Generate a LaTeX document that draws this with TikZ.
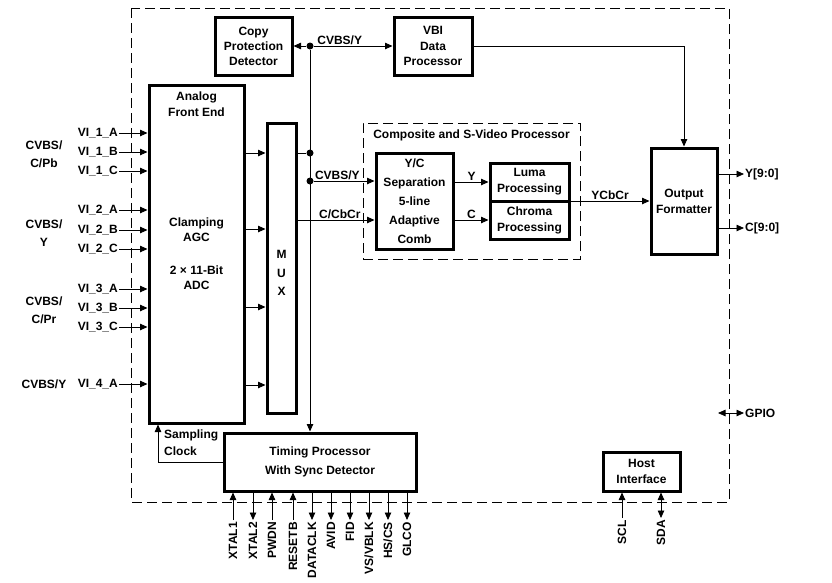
\documentclass[tikz,border=0pt]{standalone}
\usepackage{fontspec}
\setmainfont{Liberation Sans}
\usepackage{tikz}
\usetikzlibrary{
    arrows.meta,
    positioning
}
\tikzset{
    % Base style for all texts
    base text/.style={
        font=\fontsize{12}{15}\selectfont\bfseries,
        align=center,
        inner sep=1pt,
    },
    % Other line spacing
    spread/.style={
        font=\fontsize{12}{#1}\selectfont\bfseries,
    },
    % Functional blocks - thick black outline
    block/.style={
        base text,
        draw,
        line width=3pt,
        inner sep=0pt,
    },
    % Dashed frames
    frame/.style={
        draw,
        line width=0.8pt,
        dash pattern=on 10pt off 5pt,
    },
    % Plain signal line
    wire/.style={
        line width=0.8pt,
    },
    % Signal arrow
    arrow/.style={
        wire,
        -{Triangle[length=7.5pt, width=6.5pt]},
    },
    % Arrow pointing back to the start
    arrow back/.style={
        wire,
        {Triangle[length=7.5pt, width=6.5pt]}-,
    },
    % Bidirectional signal
    arrow both/.style={
        wire,
        {Triangle[length=7.5pt, width=6.5pt]}-{Triangle[length=7.5pt, width=6.5pt]},
    },
    % Junction dot on the bus
    junction/.style={
        circle,
        fill,
        inner sep=0pt,
        minimum size=7pt,
    },
    % Pin names, read bottom to top
    pin label/.style={
        base text,
        rotate=90,
        anchor=east,
        inner sep=2pt,
    },
}

\begin{document}
\begin{tikzpicture}[x=1pt, y=-1pt, every node/.style={align=center}]
    \useasboundingbox (0,0) rectangle (832,582);

    % chip outline
    \draw [frame] (131,8) rectangle (729,502);
    \node (cvp) [frame, minimum width=217pt, minimum height=136pt] at (471.5,191) {};
    \node (cvptitle) [base text, below=6pt of cvp.north] {Composite and S-Video Processor};

    \node (cpd) [block, spread=15, minimum width=77pt, minimum height=58pt] at (253.5,46) {Copy\\Protection\\Detector};
    \node (vbi) [block, spread=15.5, minimum width=78pt, minimum height=58pt] at (433,46) {VBI\\Data\\Processor};
    \node (afe) [block, minimum width=95pt, minimum height=338pt] at (196.5,254) {};
    \node (afetop) [base text, spread=16] at (196.5,104) {Analog\\Front End};
    \node (afemid) [base text] at (196.5,253.5) {Clamping\\AGC\\[18pt]2 × 11-Bit\\ADC};
    \node (mux) [block, minimum width=29pt, minimum height=290pt] at (281.5,268) {};
    \node (muxtext) [base text, spread=18.5] at (281.5,273) {M\\U\\X};
    \node (yc) [block, spread=19, minimum width=77pt, minimum height=96pt] at (414.5,201) {Y/C\\Separation\\5-line\\Adaptive\\Comb};
    \node (luma) [block, spread=16, minimum width=79pt, minimum height=38pt] at (529.5,182) {Luma\\Processing};
    \node (chroma) [block, spread=16, minimum width=79pt, minimum height=38pt] at (529.5,220) {Chroma\\Processing};
    \node (fmt) [block, spread=16, minimum width=66pt, minimum height=106pt] at (684,201) {Output\\Formatter};
    \node (tim) [block, spread=19, minimum width=192pt, minimum height=58pt] at (320,462) {Timing Processor\\With Sync Detector};
    \node (host) [block, spread=16, minimum width=77pt, minimum height=39pt] at (641.5,471.5) {Host\\Interface};

    % bus junctions
    \node (jtop) [junction] at (310,46) {};
    \node (jmux) [junction] at (310,153) {};
    \node (jcv) [junction] at (310,181) {};

    % analog inputs
    \node (g1) [base text, spread=18] at (44,154) {CVBS/\\C/Pb};
    \node (g2) [base text, spread=18] at (44,233) {CVBS/\\Y};
    \node (g3) [base text, spread=18] at (44,310) {CVBS/\\C/Pr};
    \node (g4) [base text] at (44,384) {CVBS/Y};
    \node (vi1a) [base text, anchor=east] at (119,133) {VI\_1\_A};
    \node (vi1b) [base text, anchor=east] at (119,152) {VI\_1\_B};
    \node (vi1c) [base text, anchor=east] at (119,171) {VI\_1\_C};
    \node (vi2a) [base text, anchor=east] at (119,210) {VI\_2\_A};
    \node (vi2b) [base text, anchor=east] at (119,230) {VI\_2\_B};
    \node (vi2c) [base text, anchor=east] at (119,249) {VI\_2\_C};
    \node (vi3a) [base text, anchor=east] at (119,289) {VI\_3\_A};
    \node (vi3b) [base text, anchor=east] at (119,308) {VI\_3\_B};
    \node (vi3c) [base text, anchor=east] at (119,327) {VI\_3\_C};
    \node (vi4a) [base text, anchor=east] at (119,384) {VI\_4\_A};
    \draw [arrow] (vi1a) -- (afe.west |- vi1a);
    \draw [arrow] (vi1b) -- (afe.west |- vi1b);
    \draw [arrow] (vi1c) -- (afe.west |- vi1c);
    \draw [arrow] (vi2a) -- (afe.west |- vi2a);
    \draw [arrow] (vi2b) -- (afe.west |- vi2b);
    \draw [arrow] (vi2c) -- (afe.west |- vi2c);
    \draw [arrow] (vi3a) -- (afe.west |- vi3a);
    \draw [arrow] (vi3b) -- (afe.west |- vi3b);
    \draw [arrow] (vi3c) -- (afe.west |- vi3c);
    \draw [arrow] (vi4a) -- (afe.west |- vi4a);

    % front end to mux
    \draw [arrow] (afe.east |- 0,153) -- (mux.west |- 0,153);
    \draw [arrow] (afe.east |- 0,229) -- (mux.west |- 0,229);
    \draw [arrow] (afe.east |- 0,307) -- (mux.west |- 0,307);
    \draw [arrow] (afe.east |- 0,385) -- (mux.west |- 0,385);

    % bus and video path
    \draw [wire] (mux.east |- jmux) -- (jmux);
    \draw [arrow] (jtop) -- (cpd);
    \draw [arrow] (jtop) -- node[base text, above, pos=0.33] {CVBS/Y} (vbi);
    \draw [arrow] (jtop) -- (jtop |- tim.north);
    \draw [arrow] (jcv) -- node[base text, above, pos=0.39] {CVBS/Y} (jcv -| yc.west);
    \draw [arrow] (mux.east |- chroma) -- node[base text, above, pos=0.55] {C/CbCr} (yc.west |- chroma);
    \draw [arrow] (yc.east |- luma) -- node[base text, above] {Y} (luma);
    \draw [arrow] (yc.east |- chroma) -- node[base text, above] {C} (chroma);
    \draw [arrow] (luma.east |- fmt.west) -- node[base text, above] {YCbCr} (fmt.west);
    \draw [arrow] (vbi) -| (fmt);

    % outputs
    \node (yout) [base text, anchor=west] at (744,174) {Y[9:0]};
    \node (cout) [base text, anchor=west] at (744,228) {C[9:0]};
    \draw [arrow] (fmt.east |- yout) -- (yout);
    \draw [arrow] (fmt.east |- cout) -- (cout);
    \coordinate (gpioend) at (718,413);
    \node (gpio) [base text, anchor=west] at (744,413) {GPIO};
    \draw [arrow both] (gpioend) -- (gpio);

    % sampling clock
    \draw [arrow] (tim.west) -| ([xshift=-38.5pt]afe.south);
    \node (samp) [base text, spread=17, align=left, anchor=west] at (163,443) {Sampling\\Clock};

    % timing pins
    \node (xtal1) [pin label] at (233,520) {XTAL1};
    \node (xtal2) [pin label] at (253,520) {XTAL2};
    \node (pwdn) [pin label] at (272,520) {PWDN};
    \node (resetb) [pin label] at (293,520) {RESETB};
    \node (dataclk) [pin label] at (312,520) {DATACLK};
    \node (avid) [pin label] at (331,520) {AVID};
    \node (fid) [pin label] at (350,520) {FID};
    \node (vsvblk) [pin label] at (369,520) {VS/VBLK};
    \node (hscs) [pin label] at (388,520) {HS/CS};
    \node (glco) [pin label] at (407,520) {GLCO};
    \draw [arrow] (xtal1.east) -- (tim.south -| xtal1.east);
    \draw [arrow back] (xtal2.east) -- (tim.south -| xtal2.east);
    \draw [arrow] (pwdn.east) -- (tim.south -| pwdn.east);
    \draw [arrow] (resetb.east) -- (tim.south -| resetb.east);
    \draw [arrow back] (dataclk.east) -- (tim.south -| dataclk.east);
    \draw [arrow back] (avid.east) -- (tim.south -| avid.east);
    \draw [arrow back] (fid.east) -- (tim.south -| fid.east);
    \draw [arrow back] (vsvblk.east) -- (tim.south -| vsvblk.east);
    \draw [arrow back] (hscs.east) -- (tim.south -| hscs.east);
    \draw [arrow back] (glco.east) -- (tim.south -| glco.east);

    % host pins
    \node (scl) [pin label] at (622,518) {SCL};
    \node (sda) [pin label] at (661,518) {SDA};
    \draw [arrow] (scl.east) -- (host.south -| scl.east);
    \draw [arrow both] (sda.east) -- (host.south -| sda.east);
\end{tikzpicture}
\end{document}
